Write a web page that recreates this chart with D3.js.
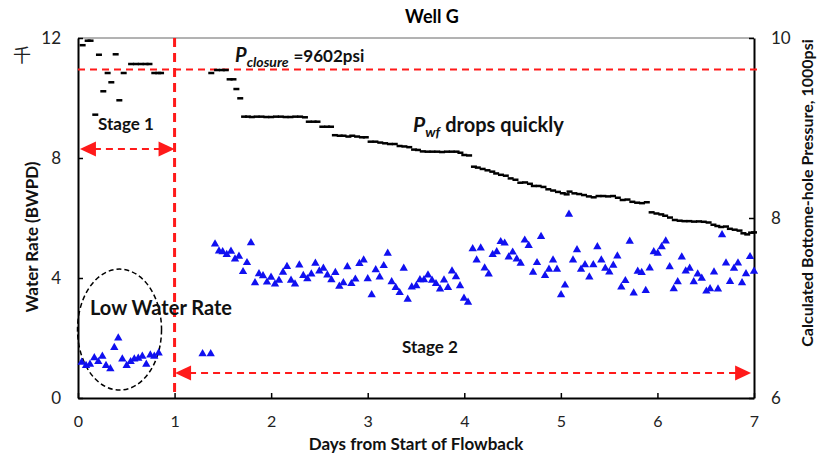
<!DOCTYPE html>
<html>
<head>
<meta charset="utf-8">
<script src="https://cdn.jsdelivr.net/npm/d3@7"></script>
<style>
  body { margin: 0; background: #fff; }
  svg { display: block; font-family: Lato, "Open Sans", sans-serif; }
</style>
</head>
<body>
<svg id="chart" width="817" height="455"></svg>
<script>
"use strict";

// water rate, BWPD (blue triangles)
const waterDays = [0.038, 0.083, 0.124, 0.169, 0.21, 0.252, 0.29, 0.335, 0.376, 0.417, 0.459, 0.504, 0.545, 0.583, 0.624, 0.666, 0.707, 0.749, 0.79, 0.835,
  1.29, 1.374,
  1.419, 1.46, 1.498, 1.54, 1.584, 1.626, 1.667, 1.709, 1.75, 1.791, 1.833, 1.874, 1.916, 1.957, 1.999, 2.04, 2.081, 2.123, 2.164, 2.206, 2.247,
  2.292, 2.333, 2.375, 2.416, 2.458, 2.499, 2.541, 2.582, 2.624, 2.665, 2.706, 2.748, 2.789, 2.831, 2.872, 2.914, 2.958, 3.0, 3.041, 3.083,
  3.124, 3.166, 3.207, 3.248, 3.29, 3.331, 3.373, 3.414, 3.456, 3.503, 3.541, 3.583, 3.624, 3.666, 3.707, 3.749, 3.79, 3.831, 3.873, 3.914,
  3.956, 3.997, 4.039, 4.087, 4.128, 4.17, 4.211, 4.253, 4.294, 4.336, 4.377, 4.418, 4.46, 4.501, 4.543, 4.584, 4.626, 4.667, 4.712, 4.753,
  4.795, 4.836, 4.877, 4.919, 4.96, 5.002, 5.043, 5.084, 5.126, 5.167, 5.209, 5.25, 5.295, 5.336, 5.378, 5.419, 5.46, 5.502, 5.543, 5.585,
  5.626, 5.668, 5.713, 5.754, 5.796, 5.837, 5.879, 5.92, 5.962, 6.003, 6.044, 6.086, 6.127, 6.169, 6.21, 6.252, 6.293, 6.334, 6.376, 6.417,
  6.459, 6.507, 6.545, 6.586, 6.627, 6.669, 6.71, 6.752, 6.793, 6.834, 6.876, 6.917, 6.959, 7.0];
const waterRate = [1.19, 1.08, 1.12, 1.34, 1.21, 1.39, 1.08, 0.97, 1.68, 2.0, 1.3, 1.08, 1.21, 1.3, 1.32, 1.39, 1.12, 1.43, 1.39, 1.5,
  1.47, 1.47,
  5.13, 4.9, 4.87, 4.78, 4.89, 4.63, 4.72, 4.21, 4.51, 5.17, 3.84, 4.14, 4.07, 3.86, 4.02, 3.8, 3.92, 4.19, 4.38, 3.92, 3.8,
  4.43, 4.08, 3.97, 4.13, 4.49, 4.23, 4.32, 4.1, 3.94, 4.18, 3.72, 3.84, 4.37, 3.81, 3.96, 4.48, 4.6, 3.97, 3.44, 4.27,
  4.03, 4.41, 4.82, 3.87, 3.68, 3.51, 4.32, 3.29, 3.7, 3.74, 3.94, 3.94, 4.1, 3.92, 3.81, 3.63, 3.93, 3.68, 4.23, 4.04,
  3.74, 3.32, 3.19, 4.97, 4.6, 5.0, 4.33, 4.13, 4.78, 4.87, 5.21, 5.16, 4.7, 4.86, 4.63, 4.49, 5.26, 5.08, 4.19, 4.51,
  5.38, 4.08, 4.29, 4.6, 4.29, 3.44, 3.76, 6.12, 4.6, 4.94, 4.29, 4.44, 4.03, 4.44, 5.04, 4.6, 4.32, 4.2, 4.42, 4.73,
  3.7, 3.91, 5.22, 3.5, 4.22, 4.18, 3.58, 4.33, 4.87, 4.82, 5.04, 5.23, 4.37, 3.64, 3.87, 4.7, 4.23, 4.32, 3.87, 4.13,
  3.99, 3.56, 3.64, 4.2, 3.63, 5.44, 4.5, 3.88, 4.32, 4.5, 3.84, 4.14, 4.71, 4.22];

// calculated bottom-hole pressure, 1000 psi (black dashes)
const pressDays = [0.048, 0.10, 0.13, 0.179, 0.217, 0.262, 0.307, 0.345, 0.39, 0.428, 0.473, 0.55, 0.60, 0.65, 0.70, 0.74, 0.79, 0.83, 0.86,
  1.38, 1.44, 1.49, 1.53, 1.57, 1.61, 1.64, 1.68, 1.72, 1.76, 1.80, 1.85, 1.90, 1.95, 2.00, 2.05, 2.10, 2.15, 2.20, 2.25, 2.30, 2.35,
  2.39, 2.44, 2.48, 2.53, 2.58, 2.62, 2.66, 2.71, 2.75, 2.80, 2.84, 2.89, 2.94, 2.98, 3.03, 3.08, 3.13, 3.18, 3.23, 3.28, 3.33, 3.38,
  3.43, 3.48, 3.52, 3.57, 3.62, 3.67, 3.72, 3.77, 3.82, 3.87, 3.92, 3.96, 4.00, 4.05, 4.10, 4.14, 4.19, 4.24, 4.29, 4.33, 4.38, 4.43,
  4.48, 4.53, 4.58, 4.63, 4.68, 4.72, 4.77, 4.82, 4.87, 4.92, 4.97, 5.02, 5.06, 5.09, 5.14, 5.19, 5.24, 5.29, 5.34, 5.39, 5.44, 5.49,
  5.54, 5.59, 5.64, 5.69, 5.74, 5.79, 5.84, 5.89, 5.94, 5.99, 6.04, 6.08, 6.13, 6.18, 6.23, 6.28, 6.33, 6.38, 6.43, 6.48, 6.53, 6.58,
  6.62, 6.66, 6.71, 6.75, 6.80, 6.85, 6.89, 6.93, 6.97, 7.00];
const pressure = [9.92, 9.97, 9.97, 9.148, 9.814, 9.408, 9.611, 9.508, 9.819, 9.308, 9.611, 9.711, 9.711, 9.711, 9.711, 9.711, 9.611, 9.611, 9.611,
  9.611, 9.644, 9.644, 9.644, 9.541, 9.541, 9.433, 9.33, 9.126, 9.126, 9.122, 9.126, 9.126, 9.122, 9.122, 9.126, 9.126, 9.122, 9.122, 9.126, 9.126, 9.119,
  9.07, 9.07, 9.07, 9.014, 9.014, 9.014, 8.92, 8.914, 8.914, 8.905, 8.914, 8.905, 8.897, 8.897, 8.848, 8.848, 8.838, 8.83, 8.822, 8.822, 8.8, 8.795,
  8.787, 8.76, 8.756, 8.74, 8.737, 8.737, 8.737, 8.733, 8.737, 8.737, 8.737, 8.725, 8.7, 8.695, 8.57, 8.56, 8.545, 8.53, 8.515, 8.495, 8.48, 8.47,
  8.44, 8.425, 8.392, 8.395, 8.38, 8.356, 8.356, 8.345, 8.319, 8.305, 8.29, 8.275, 8.263, 8.293, 8.274, 8.266, 8.255, 8.24, 8.23, 8.244, 8.244, 8.24,
  8.244, 8.225, 8.2, 8.205, 8.18, 8.17, 8.165, 8.175, 8.063, 8.05, 8.04, 8.025, 8.005, 7.978, 7.97, 7.965, 7.965, 7.96, 7.962, 7.958, 7.95, 7.925,
  7.911, 7.9, 7.905, 7.88, 7.87, 7.86, 7.83, 7.818, 7.837, 7.84];

// ticks
const xTicks = [0, 1, 2, 3, 4, 5, 6, 7];
const leftTicks = [0, 4, 8, 12];
const rightTicks = [6, 8, 10];

// closure pressure line (as drawn) and stage boundary
const closureLine = 9.65;
const stageBoundary = 1;

const svg = d3.select("#chart");

const plotL = 78, plotR = 754, plotT = 38, plotB = 398;
const x = d3.scaleLinear().domain([0, 7]).range([plotL, plotR]);
const yL = d3.scaleLinear().domain([0, 12]).range([plotB, plotT]);
const yR = d3.scaleLinear().domain([6, 10]).range([plotB, plotT]);

const red = "#ff1a1a";

// top frame line
svg.append("line")
  .attr("x1", plotL).attr("x2", plotR).attr("y1", plotT).attr("y2", plotT)
  .attr("stroke", "#666").attr("stroke-width", 1);

// axes
function styleAxis(g, size) {
  g.select(".domain").attr("stroke", "#000").attr("stroke-width", 2);
  g.selectAll(".tick line").attr("stroke", "#000").attr("stroke-width", 1.5);
  g.selectAll(".tick text").attr("fill", "#222").style("font-size", size + "px")
    .style("font-family", "Lato, 'Open Sans', sans-serif");
}

svg.append("g")
  .attr("transform", `translate(0,${plotB})`)
  .call(d3.axisBottom(x).tickValues(xTicks).tickSize(-5).tickSizeOuter(0).tickPadding(18).tickFormat(d3.format("d")))
  .call(styleAxis, 16);

svg.append("g")
  .attr("transform", `translate(${plotL},0)`)
  .call(d3.axisLeft(yL).tickValues(leftTicks).tickSize(-5).tickSizeOuter(0).tickPadding(17).tickFormat(d3.format("d")))
  .call(styleAxis, 17);

svg.append("g")
  .attr("transform", `translate(${plotR},0)`)
  .call(d3.axisRight(yR).tickValues(rightTicks).tickSize(-5).tickSizeOuter(0).tickPadding(17).tickFormat(d3.format("d")))
  .call(styleAxis, 17);

// red dashed reference lines
svg.append("line")
  .attr("x1", plotL).attr("x2", plotR + 5)
  .attr("y1", yR(closureLine)).attr("y2", yR(closureLine))
  .attr("stroke", red).attr("stroke-width", 2).attr("stroke-dasharray", "7,5");

svg.append("line")
  .attr("x1", x(stageBoundary)).attr("x2", x(stageBoundary))
  .attr("y1", plotT).attr("y2", plotB)
  .attr("stroke", red).attr("stroke-width", 3).attr("stroke-dasharray", "9,6");

// double headed dashed arrows
function arrow(x0, x1, yy) {
  const g = svg.append("g");
  g.append("line")
    .attr("x1", x0 + 14).attr("x2", x1 - 14).attr("y1", yy).attr("y2", yy)
    .attr("stroke", red).attr("stroke-width", 2).attr("stroke-dasharray", "7,5");
  g.append("path").attr("d", `M${x0},${yy}L${x0 + 16},${yy - 7.5}L${x0 + 16},${yy + 7.5}Z`).attr("fill", red);
  g.append("path").attr("d", `M${x1},${yy}L${x1 - 16},${yy - 7.5}L${x1 - 16},${yy + 7.5}Z`).attr("fill", red);
}
arrow(x(0.02), x(1), yL(8.3));
arrow(x(1.005), x(6.97), yL(0.83));

// low water rate ellipse
svg.append("ellipse")
  .attr("cx", x(0.43)).attr("cy", yL(2.28))
  .attr("rx", 42).attr("ry", 60.5)
  .attr("fill", "none").attr("stroke", "#000").attr("stroke-width", 1.5)
  .attr("stroke-dasharray", "5,3");

// pressure dashes
svg.append("g").selectAll("rect")
  .data(d3.zip(pressDays, pressure))
  .join("rect")
  .attr("x", d => x(d[0]) - 3)
  .attr("y", d => yR(d[1]) - 1.25)
  .attr("width", 6).attr("height", 2.5)
  .attr("fill", "#000");

// water rate triangles
svg.append("g").selectAll("path")
  .data(d3.zip(waterDays, waterRate))
  .join("path")
  .attr("d", d3.symbol(d3.symbolTriangle, 30))
  .attr("transform", d => `translate(${x(d[0])},${yL(d[1])})`)
  .attr("fill", "#1010f0");

// titles
svg.append("text").attr("x", 432).attr("y", 23).attr("text-anchor", "middle")
  .style("font-size", "18px").style("font-weight", "bold").text("Well G");

svg.append("text").attr("x", 416).attr("y", 450).attr("text-anchor", "middle")
  .style("font-size", "17px").style("font-weight", "bold").attr("fill", "#111")
  .text("Days from Start of Flowback");

svg.append("text").attr("transform", "translate(38,237) rotate(-90)").attr("text-anchor", "middle")
  .style("font-size", "17px").style("font-weight", "bold").attr("fill", "#111")
  .text("Water Rate (BWPD)");

svg.append("text").attr("transform", "translate(813,193) rotate(-90)").attr("text-anchor", "middle")
  .style("font-size", "16px").style("font-weight", "bold").attr("fill", "#111")
  .text("Calculated Bottome-hole Pressure, 1000psi");

svg.append("text").attr("x", 22).attr("y", 62).attr("text-anchor", "middle")
  .style("font-size", "18px").style("font-family", "'Noto Sans CJK SC', sans-serif")
  .attr("fill", "#222").text("千");

// annotations
function label(tx, ty, size, str) {
  return svg.append("text").attr("x", tx).attr("y", ty)
    .style("font-size", size + "px").style("font-weight", "bold").attr("fill", "#111").text(str);
}
label(98, 130, 17, "Stage 1");
label(402, 353, 17, "Stage 2");
label(90, 315, 20, "Low Water Rate");

const pc = svg.append("text").attr("x", 235).attr("y", 62)
  .style("font-weight", "bold").attr("fill", "#111");
pc.append("tspan").style("font-style", "italic").style("font-size", "20px").text("P");
pc.append("tspan").style("font-style", "italic").style("font-size", "14px").attr("dy", 5).text("closure");
pc.append("tspan").style("font-size", "17px").attr("dy", -5).attr("dx", 5).text("=9602psi");

const pw = svg.append("text").attr("x", 413).attr("y", 132)
  .style("font-weight", "bold").attr("fill", "#111");
pw.append("tspan").style("font-style", "italic").style("font-size", "21px").text("P");
pw.append("tspan").style("font-style", "italic").style("font-size", "14px").attr("dy", 5).text("wf");
pw.append("tspan").style("font-size", "20px").attr("dy", -5).attr("dx", 5).text("drops quickly");
</script>
</body>
</html>
